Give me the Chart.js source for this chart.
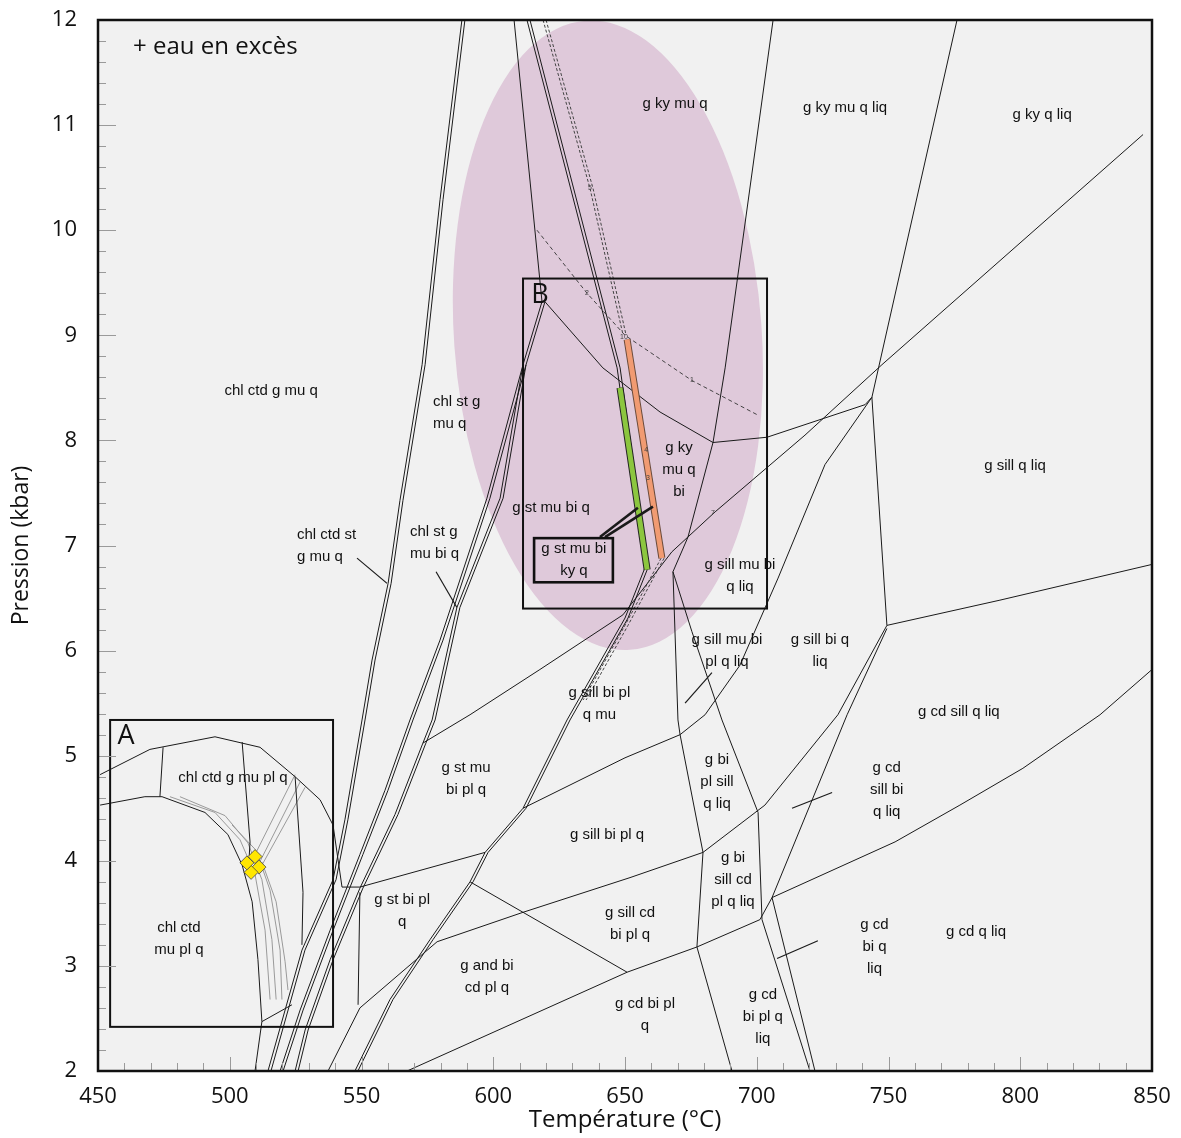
<!DOCTYPE html>
<html>
<head>
<meta charset="utf-8">
<script src="https://cdn.jsdelivr.net/npm/chart.js@4.4.1/dist/chart.umd.min.js"></script>
<style>
  html, body { margin: 0; padding: 0; background: #fff; }
  #wrap { width: 1181px; height: 1138px; position: relative; }
</style>
</head>
<body>
<div id="wrap"><canvas id="chart"></canvas></div>
<script>
// Axis ranges / ticks
const tempRange = [450, 850];
const presRange = [2, 12];

// Reaction lines, each point is [T (°C), P (kbar)]
const lineL1 = [[588.1,12],[579.8,10.29],[573.0,8.72],[564.6,7.43],[560.1,6.64],[554.0,5.91],[550.2,5.34],[543.7,4.39],[539.2,3.82],[527.4,3.15],[514.5,2.0]];
const lineTopA = [[607.9,12],[618.5,9.32]];
const lineM1 = [[618.5,9.32],[611.3,8.72],[597.6,7.45],[579.8,6.10],[568.4,5.34],[558.9,4.67],[549.4,4.06],[538.1,3.34],[526.7,2.58],[519.1,2.0]];
const lineM2 = [[611.3,8.72],[602.6,7.45],[586.2,6.41],[576.8,5.34],[573.3,5.12],[562.7,4.44],[549.4,3.74],[538.1,3.06],[528.6,2.39],[524.8,2.0]];
const lineT2 = [[612.8,12],[647.0,8.69],[657.6,6.79],[650.0,6.31],[628.0,5.34],[611.3,4.50],[596.9,4.08],[591.2,3.80],[576.0,3.25],[560.8,2.68],[547.5,2.0]];
const lineDashTop = [[618.9,12],[636.7,10.40],[649.2,9.01]];
const lineDashLow = [[663.7,6.88],[650.0,6.24],[634.1,5.53]];
const lineIso12 = [[616.6,10.0],[635.6,9.40],[650.0,9.00],[675.4,8.57],[700.5,8.24]];
const lineB = [[619.6,9.32],[641.6,8.69],[663.3,8.27],[683.4,7.98],[703.9,8.03],[741.1,8.34],[743.7,8.41]];
const lineR1 = [[706.2,12],[688.0,8.69],[683.4,7.98],[673.9,7.08],[668.2,6.75]];
const lineR1a = [[668.2,6.75],[670.1,5.34],[670.9,5.20],[679.6,4.08],[677.3,3.18],[690.6,2.0]];
const lineR1b = [[668.2,6.75],[675.4,6.18],[686.8,5.34],[700.5,4.46],[702.0,3.44],[720.2,2.0]];
const lineR2 = [[776.0,12],[743.7,8.41]];
const lineR3 = [[846.6,10.91],[747.5,8.72],[718.3,8.05],[684.2,7.32],[667.8,6.94],[649.2,6.34],[617.7,5.82],[591.2,5.39],[573.3,5.12]];
const lineR4 = [[743.7,8.41],[749.4,6.24]];
const lineR5 = [[743.7,8.41],[725.9,7.77],[708.1,6.69],[693.6,5.86],[680.4,5.39],[670.9,5.20],[650.0,4.98],[611.3,4.50]];
const lineR6 = [[850,5.82],[830.3,5.39],[801.0,4.88],[777.1,4.53],[752.5,4.18],[705.8,3.65],[701.2,3.44]];
const lineR7 = [[749.4,6.24],[792.3,6.48],[850,6.82]];
const lineE = [[749.4,6.24],[730.8,5.39],[703.1,4.53],[679.6,4.08],[651.9,3.84],[611.3,3.51],[578.7,3.23],[549.4,2.60],[537.3,2.0]];
const lineF = [[749.4,6.21],[734.3,5.39],[705.8,3.65],[722.1,2.0]];
const lineC = [[591.2,3.80],[650.8,2.94]];
const lineD = [[567.3,2.0],[650.8,2.94],[677.3,3.18],[701.2,3.44]];
const lineStTop = [[542.6,3.75],[549.4,3.75],[596.9,4.08]];
const lineStLeft = [[549.4,3.70],[548.7,2.63]];

// inset A (low-grade fields)
const arcOuter = [[450.8,4.82],[469.7,5.06],[494.4,5.18],[511.5,5.08],[524.8,4.80],[534.3,4.58],[539.2,4.34],[542.6,3.75]];
const arcInner = [[450.8,4.53],[467.8,4.61],[474.3,4.61],[490.6,4.46],[499.3,4.25],[504.7,3.96],[508.5,3.61],[510.7,3.06],[512.2,2.47],[509.6,2.0]];
const aLeft = [[474.7,5.08],[473.5,4.61]];
const aMid = [[504.7,5.13],[507.7,4.18],[507.2,3.96]];
const aRight = [[524.8,4.80],[527.8,3.70],[527.4,3.20]];
const aBottom = [[512.2,2.47],[523.6,2.63]];
const iso1 = [[477.3,4.61],[494.4,4.46],[503.9,4.20],[509.6,3.87],[513.4,3.34],[515.3,2.68]];
const iso2 = [[481.1,4.61],[498.2,4.43],[506.9,4.17],[512.2,3.82],[516.0,3.25],[517.6,2.68]];
const iso3 = [[500.9,4.34],[510.0,4.10],[515.3,3.72],[519.1,3.15],[519.8,2.68]];
const iso4 = [[512.2,3.99],[517.6,3.61],[521.0,3.04],[522.1,2.77]];
const isoD1 = [[524.8,4.82],[505.8,3.87]];
const isoD2 = [[526.7,4.75],[508.4,3.84]];
const isoD3 = [[528.6,4.70],[510.7,3.89]];
const diamondPts = [[509.6,4.04],[511.1,3.94],[508.1,3.89],[506.5,3.98]];

// coloured bands (modelled path)
const bandGreen = [[648.1,8.50],[658.4,6.77]];
const bandOrange = [[650.8,8.96],[664.0,6.88]];

// label leader lines
const leaders = [
  [[548.3,6.88],[559.7,6.64]],
  [[578.3,6.75],[586.2,6.41]],
  [[672.8,5.50],[683.0,5.79]],
  [[713.4,4.50],[728.6,4.65]],
  [[707.7,3.07],[723.2,3.24]]
];
const boxLeaders = [
  [[640.5,7.08],[654.9,7.36]],
  [[642.4,7.08],[660.6,7.37]]
];

// frames: [Tmin, Pmax, Tmax, Pmin]
const boxA = [454.6, 5.34, 539.2, 2.42];
const boxB = [611.3, 9.54, 703.9, 6.40];
const boxLabel = [615.5, 7.07, 645.4, 6.65];

// shaded ellipse: centre [T,P], half-axes [°C, kbar]
const ellipseCenter = [643.5, 9.0];
const ellipseHalf = [58.4, 3.0];

// field labels: [T, P, text]; multi-line split by \n
const fieldLabels = [
  [669.0, 11.20, 'g ky mu q'],
  [733.5, 11.16, 'g ky mu q liq'],
  [808.3, 11.10, 'g ky q liq'],
  [515.7, 8.47, 'chl ctd g mu q'],
  [670.5, 7.93, 'g ky\nmu q\nbi'],
  [621.9, 7.36, 'g st mu bi q'],
  [630.6, 6.97, 'g st mu bi\nky q'],
  [693.6, 6.82, 'g sill mu bi\nq liq'],
  [688.7, 6.10, 'g sill mu bi\npl q liq'],
  [724.0, 6.10, 'g sill bi q\nliq'],
  [640.3, 5.60, 'g sill bi pl\nq mu'],
  [589.7, 4.88, 'g st mu\nbi pl q'],
  [798.0, 7.76, 'g sill q liq'],
  [776.7, 5.42, 'g cd sill q liq'],
  [684.9, 4.96, 'g bi\npl sill\nq liq'],
  [749.3, 4.88, 'g cd\nsill bi\nq liq'],
  [643.2, 4.25, 'g sill bi pl q'],
  [691.0, 4.03, 'g bi\nsill cd\npl q liq'],
  [565.4, 3.63, 'g st bi pl\nq'],
  [651.9, 3.50, 'g sill cd\nbi pl q'],
  [744.7, 3.39, 'g cd\nbi q\nliq'],
  [783.2, 3.32, 'g cd q liq'],
  [597.6, 3.00, 'g and bi\ncd pl q'],
  [657.6, 2.64, 'g cd bi pl\nq'],
  [702.3, 2.72, 'g cd\nbi pl q\nliq'],
  [501.2, 4.79, 'chl ctd g mu pl q'],
  [480.7, 3.36, 'chl ctd\nmu pl q']
];
// left-aligned labels
const leftLabels = [
  [577.1, 8.37, 'chl st g\nmu q'],
  [525.5, 7.10, 'chl ctd st\ng mu q'],
  [568.4, 7.13, 'chl st g\nmu bi q']
];
const tinyLabels = [
  [636.7, 10.40, '5'], [635.6, 9.40, '2'], [649.6, 8.98, '10'], [675.4, 8.57, '1'],
  [658.0, 7.91, '4'], [658.7, 7.64, '3'], [683.4, 7.31, '7']
];
const noteText = [463.3, 11.74, '+ eau en excès'];
const insetNames = [[460.6, 5.18, 'A'], [617.7, 9.38, 'B']];

const INK = '#1a1a1a';
const LABEL_FONT = '15px "Liberation Sans", Arial, sans-serif';

function lineSet(data, extra) {
  return Object.assign({
    data: data,
    showLine: true,
    borderColor: INK,
    borderWidth: 1,
    pointRadius: 0,
    fill: false,
    tension: 0
  }, extra || {});
}

// Chart.js paints the last dataset first, so marks that must sit on top come first
const datasets = [
  {
    data: diamondPts,
    showLine: false,
    pointStyle: 'rectRot',
    pointRadius: 7,
    backgroundColor: '#ffe600',
    borderColor: '#444',
    borderWidth: 0.8
  },
  ...boxLeaders.map(l => lineSet(l, { borderWidth: 2.6 })),
  lineSet(bandGreen, { borderWidth: 5, borderColor: '#8cc63f' }),
  lineSet(bandGreen, { borderWidth: 7, borderColor: '#222' }),
  lineSet(bandOrange, { borderWidth: 5, borderColor: '#f19b72' }),
  lineSet(bandOrange, { borderWidth: 7, borderColor: '#6a4a3a' }),
  ...leaders.map(l => lineSet(l, { borderWidth: 1.2 })),
  lineSet(lineL1, { doubleGap: 3 }),
  lineSet(lineTopA),
  lineSet(lineM1, { doubleGap: 3 }),
  lineSet(lineM2, { doubleGap: 3 }),
  lineSet(lineT2, { doubleGap: 3 }),
  lineSet(lineDashTop, { borderDash: [3, 2], doubleGap: 3, borderColor: '#444' }),
  lineSet(lineDashLow, { borderDash: [3, 2], doubleGap: 3, borderColor: '#444' }),
  lineSet(lineIso12, { borderDash: [4, 3], borderColor: '#333', borderWidth: 0.9 }),
  lineSet(lineB),
  lineSet(lineR1), lineSet(lineR1a), lineSet(lineR1b),
  lineSet(lineR2), lineSet(lineR3), lineSet(lineR4), lineSet(lineR5),
  lineSet(lineR6), lineSet(lineR7), lineSet(lineE), lineSet(lineF),
  lineSet(lineC), lineSet(lineD), lineSet(lineStTop), lineSet(lineStLeft),
  lineSet(arcOuter), lineSet(arcInner), lineSet(aLeft), lineSet(aMid),
  lineSet(aRight), lineSet(aBottom),
  lineSet(iso1, { borderColor: '#9a9a9a' }), lineSet(iso2, { borderColor: '#9a9a9a' }),
  lineSet(iso3, { borderColor: '#9a9a9a' }), lineSet(iso4, { borderColor: '#9a9a9a' }),
  lineSet(isoD1, { borderColor: '#9a9a9a' }), lineSet(isoD2, { borderColor: '#9a9a9a' }),
  lineSet(isoD3, { borderColor: '#9a9a9a' })
];

// draws backdrop, ellipse, doubled lines, frames, labels, inner ticks
const diagramPlugin = {
  id: 'diagram',
  beforeDatasetsDraw(chart) {
    const { ctx, chartArea: a, scales: { x, y } } = chart;
    ctx.save();
    ctx.fillStyle = '#f1f1f1';
    ctx.fillRect(a.left, a.top, a.right - a.left, a.bottom - a.top);
    ctx.beginPath();
    ctx.rect(a.left, a.top, a.right - a.left, a.bottom - a.top);
    ctx.clip();
    const cx = x.getPixelForValue(ellipseCenter[0]);
    const cy = y.getPixelForValue(ellipseCenter[1]);
    const rx = x.getPixelForValue(ellipseCenter[0] + ellipseHalf[0]) - cx;
    const ry = cy - y.getPixelForValue(ellipseCenter[1] + ellipseHalf[1]);
    ctx.beginPath();
    ctx.ellipse(cx, cy, rx, ry, -0.07, 0, Math.PI * 2);
    ctx.fillStyle = '#dfc9da';
    ctx.fill();
    ctx.restore();
  },
  afterDatasetDraw(chart, args) {
    const ds = chart.data.datasets[args.index];
    if (!ds.doubleGap) return;
    const { ctx, chartArea: a } = chart;
    ctx.save();
    ctx.beginPath();
    ctx.rect(a.left, a.top, a.right - a.left, a.bottom - a.top);
    ctx.clip();
    ctx.translate(ds.doubleGap, 0);
    args.meta.dataset.draw(ctx, a);
    ctx.restore();
  },
  afterDatasetsDraw(chart) {
    const { ctx, chartArea: a, scales: { x, y } } = chart;
    const px = v => x.getPixelForValue(v);
    const py = v => y.getPixelForValue(v);
    ctx.save();

    // inset frames
    const frame = (b, w) => {
      ctx.lineWidth = w;
      ctx.strokeStyle = '#111';
      ctx.strokeRect(px(b[0]), py(b[1]), px(b[2]) - px(b[0]), py(b[3]) - py(b[1]));
    };
    frame(boxA, 2);
    frame(boxB, 2);
    frame(boxLabel, 2.6);

    // field labels
    ctx.fillStyle = '#111';
    ctx.font = LABEL_FONT;
    ctx.textBaseline = 'middle';
    ctx.textAlign = 'center';
    fieldLabels.forEach(([t, p, txt]) => {
      txt.split('\n').forEach((s, i) => ctx.fillText(s, px(t), py(p) + i * 22));
    });
    ctx.textAlign = 'left';
    leftLabels.forEach(([t, p, txt]) => {
      txt.split('\n').forEach((s, i) => ctx.fillText(s, px(t), py(p) + i * 22));
    });

    ctx.font = '7px Arial, sans-serif';
    ctx.fillStyle = '#444';
    ctx.textAlign = 'center';
    tinyLabels.forEach(([t, p, s]) => ctx.fillText(s, px(t), py(p)));

    ctx.fillStyle = '#111';
    ctx.font = '24px "Open Sans", sans-serif';
    ctx.textAlign = 'left';
    ctx.fillText(noteText[2], px(noteText[0]), py(noteText[1]));
    ctx.font = '27px "Open Sans", sans-serif';
    ctx.textAlign = 'center';
    insetNames.forEach(([t, p, s]) => ctx.fillText(s, px(t), py(p)));

    // inner tick marks
    ctx.strokeStyle = '#9a9a9a';
    ctx.lineWidth = 1;
    ctx.beginPath();
    for (let i = 0; i <= 50; i++) {
      const yy = Math.round(py(presRange[0] + i * 0.2)) + 0.5;
      const len = i % 5 === 0 ? 18 : 8;
      ctx.moveTo(a.left, yy);
      ctx.lineTo(a.left + len, yy);
    }
    for (let i = 0; i <= 40; i++) {
      const xx = Math.round(px(tempRange[0] + i * 10)) + 0.5;
      const len = i % 5 === 0 ? 14 : 8;
      ctx.moveTo(xx, a.bottom);
      ctx.lineTo(xx, a.bottom - len);
    }
    ctx.stroke();

    // plot frame
    ctx.strokeStyle = '#111';
    ctx.lineWidth = 2.5;
    ctx.strokeRect(a.left, a.top, a.right - a.left, a.bottom - a.top);
    ctx.restore();
  }
};

new Chart(document.getElementById('chart'), {
  type: 'scatter',
  data: { datasets },
  options: {
    responsive: true,
    maintainAspectRatio: false,
    animation: false,
    events: [],
    layout: { padding: { left: 0, top: 20, right: 29, bottom: 0 } },
    plugins: { legend: { display: false }, tooltip: { enabled: false } },
    scales: {
      x: {
        type: 'linear',
        min: tempRange[0],
        max: tempRange[1],
        grid: { display: false, drawTicks: false },
        border: { display: false },
        ticks: { stepSize: 50, padding: 13, color: '#111', font: { family: '"Open Sans", sans-serif', size: 22 } },
        title: {
          display: true,
          text: 'Température (°C)',
          color: '#111',
          font: { family: '"Open Sans", sans-serif', size: 24 },
          padding: { top: 0, bottom: 3 }
        },
        afterFit(scale) {
          scale.height = 67;
          scale.paddingLeft = 0;
          scale.paddingRight = 0;
        }
      },
      y: {
        type: 'linear',
        min: presRange[0],
        max: presRange[1],
        grid: { display: false, drawTicks: false },
        border: { display: false },
        ticks: { stepSize: 1, padding: 21, color: '#111', font: { family: '"Open Sans", sans-serif', size: 22 } },
        title: {
          display: true,
          text: 'Pression (kbar)',
          color: '#111',
          font: { family: '"Open Sans", sans-serif', size: 23 },
          padding: { top: 8, bottom: 0 }
        },
        afterFit(scale) {
          scale.width = 98;
          scale.paddingTop = 0;
          scale.paddingBottom = 0;
        }
      }
    }
  },
  plugins: [diagramPlugin]
});
</script>
</body>
</html>
